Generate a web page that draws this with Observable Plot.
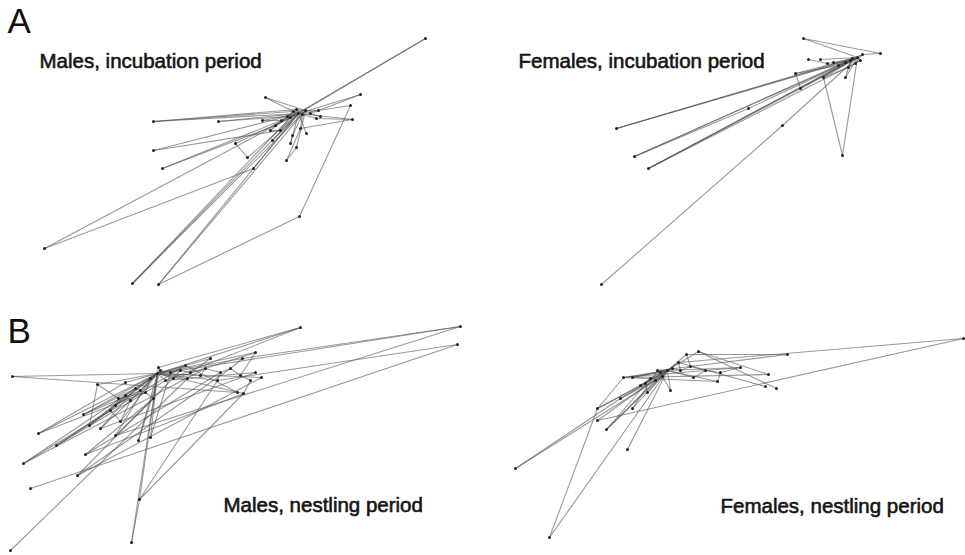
<!DOCTYPE html>
<html>
<head>
<meta charset="utf-8">
<script src="https://cdn.jsdelivr.net/npm/d3@7"></script>
<script src="https://cdn.jsdelivr.net/npm/@observablehq/plot@0.6"></script>
<style>
  html, body { margin: 0; padding: 0; background: #fff; }
  #chart { width: 965px; height: 555px; }
</style>
</head>
<body>
<div id="chart"></div>
<script>
// ---- Node positions (picture units) ----
const nodesMaleInc = [
  [298,113],[425,38],[265,97],[360,94],[350,105],[352,119],[153,121],[218,121],[262,120],[153,150],
  [235,143],[162,168],[253,168],[247,157],[44,248],[132,283],[158,284],[299,216],[286,160],[290,143],
  [306,133],[300,128],[280,130],[272,140],[305,110],[290,117],[318,110],[275,125],[296,147],
  [293,111],[302,114],[310,113],[287,116],[296,109],[281,120],[316,118],[320,116],[270,130],[292,135]
];
const edgesMaleInc = [
  [1,0],[1,25],[2,24],[3,0],[3,26],[4,0],[5,0],[5,21],[6,0],[6,24],[7,0],[8,0],[27,0],[9,0],[9,22],
  [10,0],[11,27],[11,0],[12,0],[13,0],[14,25],[14,12],[15,0],[15,25],[16,0],[16,17],[17,4],[18,21],
  [18,28],[19,0],[20,0],[22,25],[23,0],[28,24],[13,10],[16,24],[15,24],[26,24],
  [29,30],[30,31],[31,26],[32,29],[33,24],[34,32],[35,30],[36,31],[29,0],[32,0],[33,0],[34,27],
  [35,5],[30,21],[8,34],[7,32],[37,29],[38,30],[37,22],[38,19],[33,30],[24,31],[2,29],[6,33]
];

const nodesFemaleInc = [
  [857,57],[803,38],[880,53],[808,59],[616,128],[634,156],[648,168],[601,284],[782,125],[748,108],
  [842,155],[795,73],[800,88],[845,77],[823,77],[827,63],[833,62],[820,59],[850,60],[862,54],
  [852,58],[845,62],[838,65],[855,63],[848,67],[860,60]
];
const edgesFemaleInc = [
  [1,2],[1,0],[2,19],[3,15],[15,16],[16,0],[17,0],[4,0],[4,18],[5,0],[5,9],[9,0],[6,0],[6,18],
  [6,12],[7,8],[8,0],[10,0],[10,14],[11,0],[11,12],[12,0],[13,0],[14,0],[12,19],[5,19],[13,18],
  [20,0],[21,20],[22,21],[23,19],[24,20],[25,0],[22,0],[24,25],[11,22],[14,24],[4,20],[6,25],[16,21]
];

const nodesMaleNest = [
  [157,373],[300,327],[460,326],[457,344],[12,376],[255,352],[261,377],[255,372],[243,393],[237,392],
  [242,358],[210,358],[185,365],[173,378],[97,384],[83,414],[38,433],[56,445],[89,425],[100,428],
  [23,463],[30,488],[77,475],[85,454],[115,435],[138,440],[150,437],[139,499],[131,542],[10,550],
  [115,405],[120,421],[125,382],[153,398],[187,378],[200,375],[217,380],[140,390],[165,380],[130,400],
  [180,370],[150,378],[160,370],[170,372],[190,372],[205,368],[220,372],[230,368],[135,388],[145,392],
  [125,395],[118,398],[110,410],[158,367],[240,375],[250,380]
];
const edgesMaleNest = [
  [1,0],[1,38],[2,40],[2,24],[2,10],[3,21],[4,0],[4,9],[5,0],[5,13],[6,0],[7,38],[8,0],[9,12],
  [10,0],[11,0],[12,0],[13,0],[14,0],[14,18],[15,0],[15,37],[16,32],[16,0],[17,38],[18,0],[19,39],
  [20,0],[20,12],[22,40],[23,33],[25,0],[26,0],[27,0],[27,36],[27,8],[28,0],[28,27],[29,34],
  [30,0],[31,0],[32,0],[33,0],[34,0],[35,0],[36,0],[37,0],[38,0],[39,0],[40,0],[23,8],[22,6],
  [19,7],[3,36],[30,37],[31,39],[24,33],[17,30],
  [41,42],[42,43],[43,40],[40,44],[44,45],[45,46],[46,47],[47,54],[54,55],[48,41],[49,41],[50,48],
  [51,49],[52,50],[53,0],[41,0],[43,12],[44,11],[45,35],[46,36],[47,10],[55,8],[48,37],[49,33],
  [50,39],[51,30],[52,31],[42,53],[1,53],[54,5],[15,48],[16,49],[14,51],[17,52],[18,50],[19,48],
  [24,41],[25,42],[26,43],[20,45],[22,47],[23,46]
];

const nodesFemaleNest = [
  [667,370],[963,338],[787,354],[768,374],[776,388],[765,386],[717,381],[740,367],[698,351],[686,354],
  [678,362],[657,370],[623,377],[632,377],[597,408],[597,420],[606,429],[627,449],[515,468],[549,537],
  [632,408],[620,398],[670,390],[693,377],[647,392],[655,380],[640,385],
  [660,372],[672,368],[680,370],[650,378],[645,383],[662,376],[690,366],[705,370],[720,372]
];
const edgesFemaleNest = [
  [1,10],[1,15],[2,9],[3,8],[4,8],[5,10],[6,0],[7,0],[8,0],[9,0],[10,0],[11,0],[12,0],[13,0],
  [14,0],[14,12],[15,0],[16,0],[17,0],[18,21],[18,25],[19,14],[19,0],[20,0],[21,0],[22,0],[23,0],
  [24,0],[25,0],[26,0],[12,7],[13,3],[2,11],[6,12],[16,25],[20,11],
  [27,28],[28,29],[29,33],[33,34],[34,35],[30,27],[31,30],[32,27],[27,0],[28,0],[29,10],[30,26],
  [31,24],[32,22],[33,9],[34,23],[35,6],[35,7],[14,31],[16,30],[21,32],[12,27],[13,28]
];

// ---- Text ----
const panelLetters = ["A", "B"];
const panelTitles = ["Males, incubation period", "Females, incubation period",
                     "Males, nestling period", "Females, nestling period"];

// ---- Build tables ----
const panels = [
  [nodesMaleInc, edgesMaleInc],
  [nodesFemaleInc, edgesFemaleInc],
  [nodesMaleNest, edgesMaleNest],
  [nodesFemaleNest, edgesFemaleNest]
];
const links = [];
const points = [];
panels.forEach(([nodes, edges], p) => {
  nodes.forEach(([x, y]) => points.push({p, x, y}));
  edges.forEach(([a, b]) => links.push({p, x1: nodes[a][0], y1: nodes[a][1], x2: nodes[b][0], y2: nodes[b][1]}));
});

const font = "'Liberation Sans', Arial, sans-serif";
const letterStyle = {frameAnchor: "top-left", fontSize: 35, fontFamily: font, fill: "#111", textAnchor: "start", lineAnchor: "top"};
const titleStyle = {frameAnchor: "top-left", fontSize: 20.5, fontFamily: font, fill: "#151515", textAnchor: "start", lineAnchor: "top", stroke: "#151515", strokeWidth: 0.6};

const chart = Plot.plot({
  width: 965,
  height: 555,
  margin: 0,
  style: {background: "#fff"},
  x: {domain: [0, 965], axis: null},
  y: {domain: [555, 0], axis: null},
  marks: [
    Plot.link(links, {x1: "x1", y1: "y1", x2: "x2", y2: "y2", stroke: "#555", strokeOpacity: 0.6, strokeWidth: 1.1}),
    Plot.dot(points, {x: "x", y: "y", r: 1.5, fill: "#222", stroke: "none"}),
    Plot.text([panelLetters[0]], {...letterStyle, dx: 7, dy: 8}),
    Plot.text([panelLetters[1]], {...letterStyle, dx: 7, dy: 318}),
    Plot.text([panelTitles[0]], {...titleStyle, dx: 39, dy: 53}),
    Plot.text([panelTitles[1]], {...titleStyle, dx: 518, dy: 53}),
    Plot.text([panelTitles[2]], {...titleStyle, dx: 223, dy: 497}),
    Plot.text([panelTitles[3]], {...titleStyle, dx: 720, dy: 498})
  ]
});
document.getElementById("chart").appendChild(chart);
</script>
</body>
</html>
